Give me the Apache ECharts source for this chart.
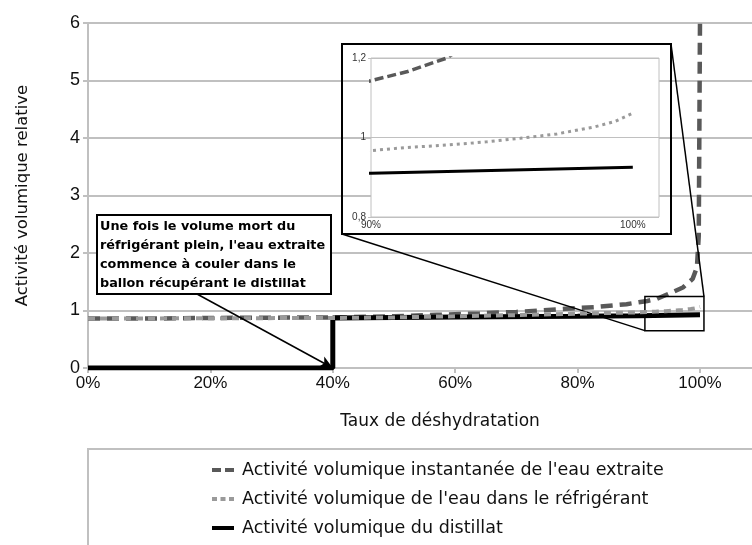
<!DOCTYPE html>
<html>
<head>
<meta charset="utf-8">
<script src="https://cdn.jsdelivr.net/npm/echarts@6/dist/echarts.min.js"></script>
<style>
html, body { margin: 0; padding: 0; background: #fff; }
#main { width: 752px; height: 545px; }
</style>
</head>
<body>
<div id="main"></div>
<script>
// series names
var nameExtraite = "Activité volumique instantanée de l'eau extraite";
var nameRefrig = "Activité volumique de l'eau dans le réfrigérant";
var nameDistillat = "Activité volumique du distillat";

// dehydration rate (fraction) and values
var extraiteX = [0, 0.1, 0.2, 0.3, 0.4, 0.5, 0.57, 0.64, 0.7, 0.74, 0.78, 0.83, 0.88, 0.9, 0.914, 0.929, 0.951, 0.972, 0.988, 0.995, 0.998, 1.0];
var extraiteY = [0.86, 0.86, 0.87, 0.875, 0.88, 0.9, 0.925, 0.95, 0.975, 1.0, 1.03, 1.06, 1.11, 1.143, 1.166, 1.2, 1.3, 1.4, 1.55, 1.75, 2.3, 6.0];

var refrigX = [0, 0.2, 0.4, 0.5, 0.6, 0.7, 0.8, 0.9, 0.914, 0.929, 0.944, 0.957, 0.971, 0.985, 0.993, 1.0];
var refrigY = [0.86, 0.865, 0.87, 0.88, 0.9, 0.92, 0.945, 0.967, 0.975, 0.981, 0.989, 0.998, 1.009, 1.026, 1.04, 1.061];

var distillatX = [0, 0.4, 0.4, 0.6, 0.8, 0.9, 1.0];
var distillatY = [0, 0, 0.87, 0.885, 0.9, 0.91, 0.925];

var mainYTicks = [0, 1, 2, 3, 4, 5, 6];
var insetYLabels = { "0.8": "0,8", "1": "1", "1.2": "1,2" };

var calloutText = "Une fois le volume mort du\nréfrigérant plein, l'eau extraite\ncommence à couler dans le\nballon récupérant le distillat";

function pairs(xs, ys) {
    return xs.map(function (x, i) { return [x, ys[i]]; });
}

var font = "'Liberation Sans', Arial, sans-serif";
var wideFont = "'DejaVu Sans', Arial, sans-serif";
var grey = "#c0c0c0";

// inset layout
var inset = { left: 371, top: 58, width: 288, height: 159 };
var insetBox = { x: 342, y: 44, width: 329, height: 190 };
// zoomed area in data coords
var zoomArea = { x0: 0.91, x1: 1.0065, y0: 0.65, y1: 1.245 };

var myChart = echarts.init(document.getElementById("main"));

var option = {
    animation: false,
    textStyle: { fontFamily: font },
    legend: {
        orient: "vertical",
        left: 207,
        top: 456,
        itemWidth: 22,
        itemHeight: 4,
        itemGap: 11,
        data: [
            { name: nameExtraite, icon: "path://M0,0H9V4H0Z M13,0H22V4H13Z" },
            { name: nameRefrig, icon: "path://M0,0H5V4H0Z M8.5,0H13.5V4H8.5Z M17,0H22V4H17Z" },
            { name: nameDistillat, icon: "path://M0,0H22V4H0Z" },
        ],
        textStyle: { fontSize: 17.5, color: "#111", fontFamily: wideFont, padding: [0, 0, 0, 3] },
    },
    grid: [{
            left: 88,
            top: 23,
            right: 0,
            bottom: 177,
        },
        {
            left: inset.left,
            top: inset.top,
            width: inset.width,
            height: inset.height,
            show: true,
            z: 5,
            borderColor: grey,
            borderWidth: 1,
            backgroundColor: "#fff",
        },
    ],
    xAxis: [{
            type: "value",
            gridIndex: 0,
            min: 0,
            max: 1.085,
            interval: 0.2,
            name: "Taux de déshydratation",
            nameLocation: "middle",
            nameGap: 45,
            nameTextStyle: { fontSize: 17, color: "#111", fontFamily: wideFont, padding: [0, 0, 0, 40] },
            axisLine: { show: true, lineStyle: { color: grey, width: 2 } },
            axisTick: { show: true, length: 5, lineStyle: { color: grey, width: 2 } },
            splitLine: { show: false },
            axisLabel: {
                fontSize: 17,
                color: "#111",
                margin: 7,
                showMaxLabel: false,
                formatter: function (v) { return Math.round(v * 100) + "%"; },
            },
        },
        {
            type: "value",
            gridIndex: 1,
            min: 0.9,
            max: 1.01,
            interval: 0.1,
            z: 5,
            axisLine: { show: false },
            axisTick: { show: false },
            splitLine: { show: false },
            axisLabel: {
                fontSize: 10,
                color: "#333",
                margin: 3,
                showMaxLabel: false,
                formatter: function (v) { return Math.round(v * 100) + "%"; },
            },
        },
    ],
    yAxis: [{
            type: "value",
            gridIndex: 0,
            min: mainYTicks[0],
            max: mainYTicks[mainYTicks.length - 1],
            interval: 1,
            name: "Activité volumique relative",
            nameLocation: "middle",
            nameGap: 57,
            nameTextStyle: { fontSize: 16.5, color: "#111", fontFamily: wideFont },
            axisLine: { show: true, lineStyle: { color: grey, width: 2 } },
            axisTick: { show: true, length: 5, lineStyle: { color: grey, width: 2 } },
            splitLine: { show: true, lineStyle: { color: grey, width: 2 } },
            axisLabel: { fontSize: 18, color: "#111", margin: 8 },
        },
        {
            type: "value",
            gridIndex: 1,
            min: 0.8,
            max: 1.2,
            interval: 0.2,
            z: 5,
            axisLine: { show: false },
            axisTick: { show: true, length: 3, lineStyle: { color: grey } },
            splitLine: { show: true, lineStyle: { color: grey, width: 1 } },
            axisLabel: {
                fontSize: 10,
                color: "#333",
                margin: 5,
                formatter: function (v) { return insetYLabels[String(Math.round(v * 10) / 10)]; },
            },
        },
    ],
    series: [{
            name: nameExtraite,
            type: "line",
            xAxisIndex: 0,
            yAxisIndex: 0,
            showSymbol: false,
            symbol: "none",
            z: 2,
            lineStyle: { color: "#595959", width: 4.5, type: [12, 7] },
            itemStyle: { color: "#595959" },
            data: pairs(extraiteX, extraiteY),
        },
        {
            name: nameDistillat,
            type: "line",
            xAxisIndex: 0,
            yAxisIndex: 0,
            showSymbol: false,
            symbol: "none",
            z: 2,
            lineStyle: { color: "#000", width: 5 },
            itemStyle: { color: "#000" },
            data: pairs(distillatX, distillatY),
            markLine: {
                silent: true,
                symbol: ["none", "arrow"],
                symbolSize: [9, 13],
                z: 4,
                label: { show: false },
                lineStyle: { color: "#000", width: 1.5, type: "solid" },
                data: [
                    [{ x: 197, y: 294 }, { coord: [0.4, 0] }],
                ],
            },
        },
        {
            name: nameRefrig,
            type: "line",
            xAxisIndex: 0,
            yAxisIndex: 0,
            showSymbol: false,
            symbol: "none",
            z: 3,
            lineStyle: { color: "#9a9a9a", width: 4, type: [7, 5] },
            itemStyle: { color: "#9a9a9a" },
            data: pairs(refrigX, refrigY),
        },
        // inset copies
        {
            name: nameExtraite,
            type: "line",
            xAxisIndex: 1,
            yAxisIndex: 1,
            showSymbol: false,
            symbol: "none",
            z: 6,
            lineStyle: { color: "#595959", width: 3.5, type: [9, 4] },
            data: pairs(extraiteX, extraiteY),
        },
        {
            name: nameRefrig,
            type: "line",
            xAxisIndex: 1,
            yAxisIndex: 1,
            showSymbol: false,
            symbol: "none",
            z: 6,
            lineStyle: { color: "#9a9a9a", width: 3, type: [3, 4] },
            data: pairs(refrigX, refrigY),
        },
        {
            name: nameDistillat,
            type: "line",
            xAxisIndex: 1,
            yAxisIndex: 1,
            showSymbol: false,
            symbol: "none",
            z: 6,
            lineStyle: { color: "#000", width: 3 },
            data: pairs(distillatX, distillatY),
        },
    ],
};
myChart.setOption(option);

// zoom box and connector lines, placed through the main grid's scales
var zTL = myChart.convertToPixel({ gridIndex: 0 }, [zoomArea.x0, zoomArea.y1]);
var zBR = myChart.convertToPixel({ gridIndex: 0 }, [zoomArea.x1, zoomArea.y0]);

myChart.setOption({
    graphic: [{
            // legend frame
            type: "rect",
            z: 1,
            shape: { x: 88, y: 449, width: 704, height: 120 },
            style: { fill: "#fff", stroke: grey, lineWidth: 2 },
        },
        {
            type: "rect",
            z: 3,
            shape: { x: zTL[0], y: zTL[1], width: zBR[0] - zTL[0], height: zBR[1] - zTL[1] },
            style: { fill: "transparent", stroke: "#000", lineWidth: 1.5 },
        },
        {
            type: "line",
            z: 3,
            shape: { x1: insetBox.x, y1: insetBox.y + insetBox.height, x2: zTL[0], y2: zBR[1] },
            style: { stroke: "#000", lineWidth: 1.5 },
        },
        {
            type: "line",
            z: 3,
            shape: { x1: insetBox.x + insetBox.width, y1: insetBox.y, x2: zBR[0], y2: zTL[1] },
            style: { stroke: "#000", lineWidth: 1.5 },
        },
        {
            // inset frame (margins let the main grid show through)
            type: "rect",
            z: 4,
            shape: insetBox,
            style: { fill: "transparent", stroke: "#000", lineWidth: 2 },
        },
        {
            // callout
            type: "rect",
            z: 4,
            shape: { x: 97, y: 215, width: 234, height: 79 },
            style: { fill: "#fff", stroke: "#000", lineWidth: 2 },
        },
        {
            type: "text",
            z: 5,
            x: 100,
            y: 217,
            style: {
                text: calloutText,
                font: "bold 12.8px " + wideFont,
                lineHeight: 19,
                fill: "#000",
            },
        },
    ],
});
</script>
</body>
</html>
